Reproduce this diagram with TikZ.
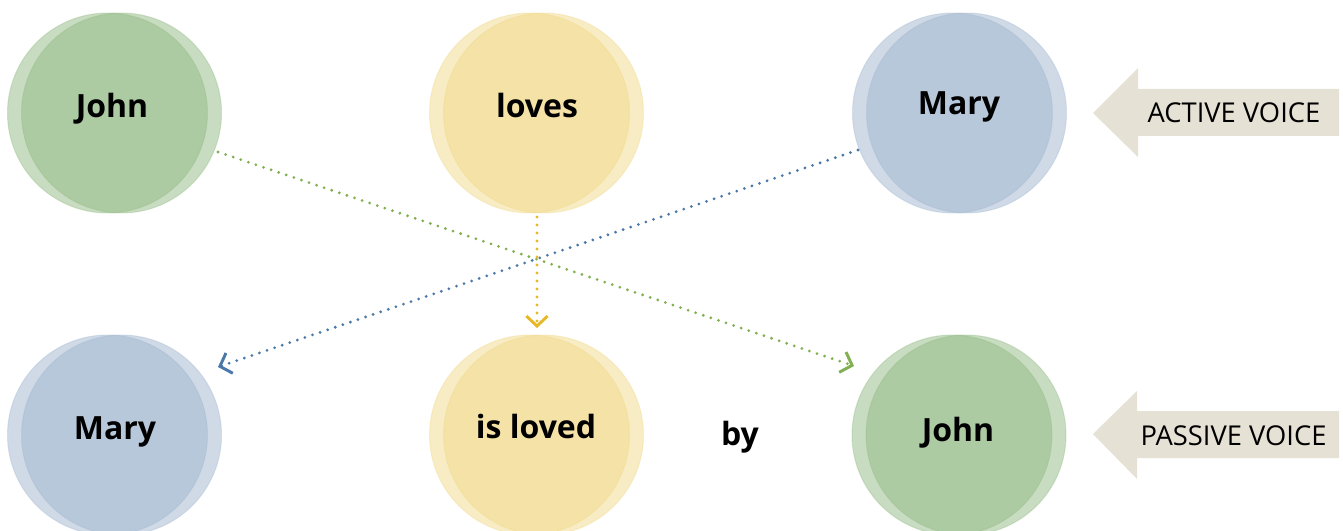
\documentclass[tikz,border=0pt]{standalone}
\usepackage{fontspec}
\setmainfont{Open Sans}
\usetikzlibrary{arrows.meta,calc}
\definecolor{gC}{RGB}{147,187,132}
\definecolor{bC}{RGB}{162,183,208}
\definecolor{yC}{RGB}{242,218,138}
\definecolor{beige}{RGB}{230,225,213}
\definecolor{gL}{RGB}{128,176,80}
\definecolor{bL}{RGB}{74,120,168}
\definecolor{yL}{RGB}{230,185,40}
\begin{document}
\begin{tikzpicture}[x=0.75pt,y=-0.75pt,
  disc/.style={circle, minimum size=150pt, inner sep=0pt, fill=#1, fill opacity=0.5, draw=#1, draw opacity=0.35, line width=0.75pt},
  word/.style={anchor=base, font=\fontsize{24}{28}\selectfont\bfseries, text=black},
  voice/.style={anchor=base, font=\fontsize{20.5}{24}\selectfont, text=black},
  conn/.style={draw=#1, line width=2.3pt, line cap=round, dash pattern=on 0pt off 6pt,
    -{Straight Barb[length=7.5pt,width=16pt,line width=2.2pt]}},
  banner/.style={fill=beige, draw=none}]
\clip (0,0) rectangle (1343,531);
\fill[white] (0,0) rectangle (1343,531);
% top row
\node[disc=gC] (j1a) at (107.5,113) {};
\node[disc=gC] (j1b) at (121.5,113) {};
\node[disc=yC] (l1a) at (529.5,113) {};
\node[disc=yC] (l1b) at (543.5,113) {};
\node[disc=bC] (m1a) at (952.5,113) {};
\node[disc=bC] (m1b) at (966.5,113) {};
% bottom row
\node[disc=bC] (m2a) at (107.5,435) {};
\node[disc=bC] (m2b) at (121.5,435) {};
\node[disc=yC] (l2a) at (529.5,435) {};
\node[disc=yC] (l2b) at (543.5,435) {};
\node[disc=gC] (j2a) at (952,435) {};
\node[disc=gC] (j2b) at (966,435) {};
% words
\node[word] (tj1) at (112,118) {John};
\node[word] (tl1) at (537,118) {loves};
\node[word] (tm1) at (959,115) {Mary};
\node[word] (tm2) at (115,439) {Mary};
\node[word] (tl2) at (536,438) {is loved};
\node[word] (tby) at (740,445) {by};
\node[word] (tj2) at (958,441) {John};
% connectors
\draw[conn=gL] ($(j1b)+(96.5,39)$) -- ($(j2a)+(-98,-69)$);
\draw[conn=bL] ($(m1a)+(-94.5,37)$) -- ($(m2b)+(96.5,-68)$);
\draw[conn=yL] ($(l1a)+(7.5,104)$) -- ($(l2a)+(7.5,-107)$);
% voice banners
\path[banner] (1093,113) -- (1138,68) -- (1138,89) -- (1339,89) -- (1339,136) -- (1138,136) -- (1138,157) -- cycle;
\node[voice] (active) at (1234,123) {ACTIVE VOICE};
\path[banner] (1093,434) -- (1137,391) -- (1137,411) -- (1339,411) -- (1339,458) -- (1137,458) -- (1137,479) -- cycle;
\node[voice] (passive) at (1233.5,445) {PASSIVE VOICE};
\end{tikzpicture}
\end{document}
